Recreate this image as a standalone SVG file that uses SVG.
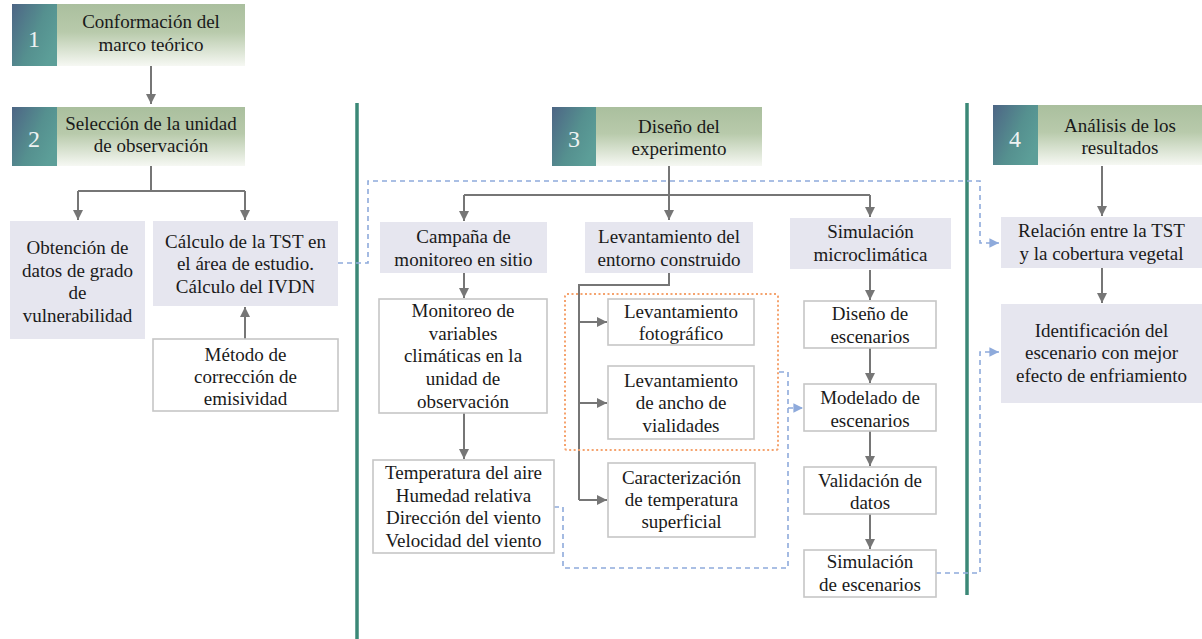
<svg xmlns="http://www.w3.org/2000/svg" width="1202" height="639" viewBox="0 0 1202 639">
<defs>
<linearGradient id="gNum" x1="0" y1="0" x2="1" y2="0.6">
<stop offset="0" stop-color="#4d6585"/>
<stop offset="0.6" stop-color="#55908f"/>
<stop offset="1" stop-color="#5c9e98"/>
</linearGradient>
<linearGradient id="gHead" x1="0" y1="0" x2="0" y2="1">
<stop offset="0" stop-color="#aabf9e"/>
<stop offset="0.45" stop-color="#b8caab"/>
<stop offset="1" stop-color="#f6f8f3"/>
</linearGradient>
<marker id="ag" viewBox="0 0 10 10" refX="10" refY="5" markerWidth="5" markerHeight="5" orient="auto" markerUnits="strokeWidth">
<path d="M0,0 L10,5 L0,10 Z" fill="#767676"/>
</marker>
<marker id="ab" viewBox="0 0 10 10" refX="10" refY="5" markerWidth="6" markerHeight="6" orient="auto" markerUnits="strokeWidth">
<path d="M0,0 L10,5 L0,10 Z" fill="#8eaadb"/>
</marker>
<style>
text{font-family:'Liberation Serif','Times New Roman',serif;font-size:19px;fill:#1a1a1a;text-anchor:middle}
text.num{font-size:24px;fill:#eef2f2}
.lav{fill:#e6e6ef;stroke:none}
.wb{fill:#ffffff;stroke:#c6c6c6;stroke-width:1.6}
.ar{fill:none;stroke:#767676;stroke-width:2}
.bd{fill:none;stroke:#8eaadb;stroke-width:1.6;stroke-dasharray:5 4}
.od{fill:none;stroke:#f5a36e;stroke-width:2;stroke-dasharray:2 2.5}
.sep{stroke:#3b8877;stroke-width:3.5}
</style>
</defs>

<g id="separators">
<line class="sep" x1="357" y1="103" x2="357" y2="639"/>
<line class="sep" x1="967" y1="103" x2="967" y2="595"/>
</g>

<g id="connectors">
<path class="ar" d="M151,66 V104" marker-end="url(#ag)"/>
<path class="ar" d="M151,165 V191 M78,191 H245"/>
<path class="ar" d="M78,191 V220" marker-end="url(#ag)"/>
<path class="ar" d="M245,191 V220" marker-end="url(#ag)"/>
<path class="ar" d="M245,339 V307" marker-end="url(#ag)"/>
<path class="ar" d="M669,166 V220" marker-end="url(#ag)"/>
<path class="ar" d="M464,195 H870"/>
<path class="ar" d="M464,195 V221" marker-end="url(#ag)"/>
<path class="ar" d="M870,195 V217" marker-end="url(#ag)"/>
<path class="ar" d="M464,273 V298" marker-end="url(#ag)"/>
<path class="ar" d="M464,413 V459" marker-end="url(#ag)"/>
<path class="ar" d="M669,273 V285 H579 V500"/>
<path class="ar" d="M579,322 H607" marker-end="url(#ag)"/>
<path class="ar" d="M579,403 H607" marker-end="url(#ag)"/>
<path class="ar" d="M579,500 H607" marker-end="url(#ag)"/>
<path class="ar" d="M870,270 V300" marker-end="url(#ag)"/>
<path class="ar" d="M870,348 V383" marker-end="url(#ag)"/>
<path class="ar" d="M870,431 V466" marker-end="url(#ag)"/>
<path class="ar" d="M870,514 V549" marker-end="url(#ag)"/>
<path class="ar" d="M1102,166 V216" marker-end="url(#ag)"/>
<path class="ar" d="M1102,268 V303" marker-end="url(#ag)"/>
<path class="bd" d="M338,263 H368 V181 H980 V243 H999" marker-end="url(#ab)"/>
<path class="bd" d="M554,507 H563 V568 H788 V372 H778"/>
<path class="bd" d="M788,408 H803" marker-end="url(#ab)"/>
<path class="bd" d="M936,573 H980 V352 H999" marker-end="url(#ab)"/>
<rect class="od" x="565" y="294" width="213" height="156" rx="2"/>
</g>

<g id="h1">
<rect x="12" y="4" width="45" height="62" fill="url(#gNum)"/>
<rect x="57" y="4" width="188" height="62" fill="url(#gHead)"/>
<text class="num" x="34" y="47">1</text>
<text x="151" y="28">Conformación del</text>
<text x="151" y="51">marco teórico</text>
</g>

<g id="h2">
<rect x="12" y="107" width="45" height="59" fill="url(#gNum)"/>
<rect x="57" y="107" width="188" height="59" fill="url(#gHead)"/>
<text class="num" x="34" y="147">2</text>
<text x="151" y="130">Selección de la unidad</text>
<text x="151" y="152">de observación</text>
</g>

<g id="h3">
<rect x="552" y="107" width="44" height="59" fill="url(#gNum)"/>
<rect x="596" y="107" width="166" height="59" fill="url(#gHead)"/>
<text class="num" x="574" y="147">3</text>
<text x="679" y="133">Diseño del</text>
<text x="679" y="155">experimento</text>
</g>

<g id="h4">
<rect x="993" y="105" width="45" height="60" fill="url(#gNum)"/>
<rect x="1038" y="105" width="164" height="60" fill="url(#gHead)"/>
<text class="num" x="1015" y="147">4</text>
<text x="1120" y="132">Análisis de los</text>
<text x="1120" y="154">resultados</text>
</g>

<g id="n-obtencion">
<rect class="lav" x="10" y="221" width="135" height="118"/>
<text x="77.5" y="254">Obtención de</text>
<text x="77.5" y="277">datos de grado</text>
<text x="77.5" y="299">de</text>
<text x="77.5" y="322">vulnerabilidad</text>
</g>

<g id="n-calculo">
<rect class="lav" x="153" y="221" width="185" height="85"/>
<text x="245.5" y="248">Cálculo de la TST en</text>
<text x="245.5" y="270">el área de estudio.</text>
<text x="245.5" y="293">Cálculo del IVDN</text>
</g>

<g id="n-metodo">
<rect class="wb" x="153" y="339" width="185" height="72"/>
<text x="245.5" y="361">Método de</text>
<text x="245.5" y="383">corrección de</text>
<text x="245.5" y="405">emisividad</text>
</g>

<g id="n-campana">
<rect class="lav" x="380" y="222" width="167" height="51"/>
<text x="463.5" y="243">Campaña de</text>
<text x="463.5" y="266">monitoreo en sitio</text>
</g>

<g id="n-levantamiento">
<rect class="lav" x="585" y="222" width="168" height="51"/>
<text x="669" y="243">Levantamiento del</text>
<text x="669" y="266">entorno construido</text>
</g>

<g id="n-simulacion">
<rect class="lav" x="790" y="218" width="161" height="51"/>
<text x="870.5" y="238">Simulación</text>
<text x="870.5" y="261">microclimática</text>
</g>

<g id="n-relacion">
<rect class="lav" x="1001" y="217" width="201" height="51"/>
<text x="1101.5" y="237">Relación entre la TST</text>
<text x="1101.5" y="260">y la cobertura vegetal</text>
</g>

<g id="n-identificacion">
<rect class="lav" x="1001" y="304" width="201" height="99"/>
<text x="1101.5" y="337">Identificación del</text>
<text x="1101.5" y="359">escenario con mejor</text>
<text x="1101.5" y="382">efecto de enfriamiento</text>
</g>

<g id="n-monitoreo">
<rect class="wb" x="379" y="299" width="168" height="114"/>
<text x="463" y="317">Monitoreo de</text>
<text x="463" y="340">variables</text>
<text x="463" y="362">climáticas en la</text>
<text x="463" y="385">unidad de</text>
<text x="463" y="408">observación</text>
</g>

<g id="n-temperatura">
<rect class="wb" x="373" y="460" width="181" height="93"/>
<text x="463.5" y="479">Temperatura del aire</text>
<text x="463.5" y="502">Humedad relativa</text>
<text x="463.5" y="524">Dirección del viento</text>
<text x="463.5" y="547">Velocidad del viento</text>
</g>

<g id="n-fotografico">
<rect class="wb" x="608" y="299" width="146" height="46"/>
<text x="681" y="318">Levantamiento</text>
<text x="681" y="340">fotográfico</text>
</g>

<g id="n-ancho">
<rect class="wb" x="608" y="366" width="146" height="73"/>
<text x="681" y="387">Levantamiento</text>
<text x="681" y="409">de ancho de</text>
<text x="681" y="432">vialidades</text>
</g>

<g id="n-caracterizacion">
<rect class="wb" x="608" y="463" width="147" height="74"/>
<text x="681.5" y="484">Caracterización</text>
<text x="681.5" y="506">de temperatura</text>
<text x="681.5" y="528">superficial</text>
</g>

<g id="n-diseno">
<rect class="wb" x="804" y="301" width="132" height="47"/>
<text x="870" y="320">Diseño de</text>
<text x="870" y="343">escenarios</text>
</g>

<g id="n-modelado">
<rect class="wb" x="804" y="384" width="132" height="47"/>
<text x="870" y="404">Modelado de</text>
<text x="870" y="427">escenarios</text>
</g>

<g id="n-validacion">
<rect class="wb" x="804" y="467" width="132" height="47"/>
<text x="870" y="487">Validación de</text>
<text x="870" y="509">datos</text>
</g>

<g id="n-simesc">
<rect class="wb" x="804" y="550" width="132" height="47"/>
<text x="870" y="568">Simulación</text>
<text x="870" y="591">de escenarios</text>
</g>
</svg>
